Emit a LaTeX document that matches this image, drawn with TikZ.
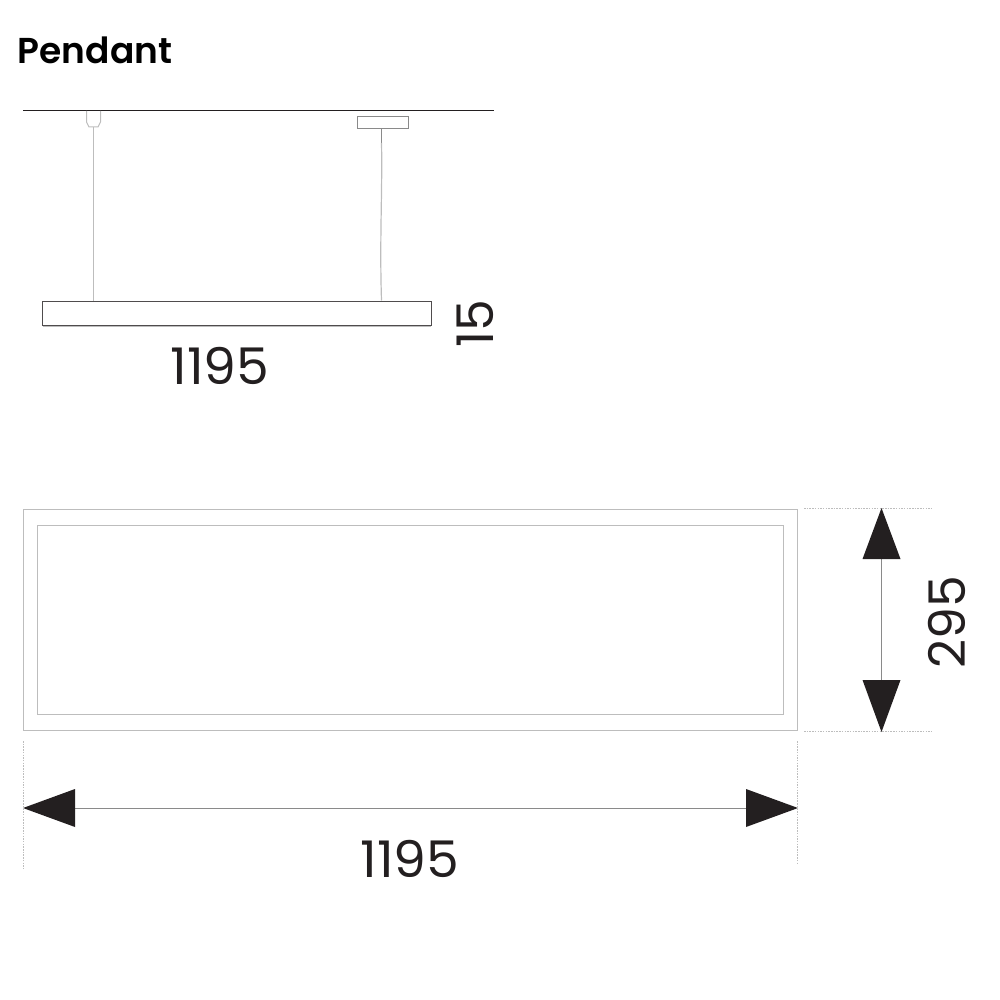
\documentclass[tikz,border=0pt]{standalone}
\usepackage{fontspec}
\setmainfont{Poppins}
\newfontfamily\titlefont{Poppins SemiBold}
\definecolor{ink}{HTML}{231F20}
\definecolor{softline}{HTML}{BDBDBD}
\definecolor{midline}{HTML}{8A8A8A}
\tikzset{
  px/.style={x=1pt,y=-1pt},
  softstroke/.style={draw=softline,line width=1pt},
  barstroke/.style={draw=ink!80,line width=1pt},
  dimline/.style={draw=midline,line width=0.9pt},
  dotline/.style={draw=softline,line width=0.8pt,dash pattern=on 1.5pt off 1.2pt},
  tip/.style={fill=ink,draw=none},
  dimtext/.style={inner sep=0pt,text=ink,font=\fontsize{50.5}{51}\selectfont},
}
\begin{document}
\begin{tikzpicture}[px]
\useasboundingbox (0,0) rectangle (1000,1000);
% title
\node[inner sep=0pt,anchor=west,text=black,font=\titlefont\fontsize{36}{36}\selectfont] (title) at (17.5,50) {Pendant};
% ceiling
\coordinate (ceilL) at (23,110.5);
\coordinate (ceilR) at (493.5,110.5);
\draw[draw=ink,line width=1.4pt] (ceilL) -- (ceilR);
% left suspension
\coordinate (capBot) at (93.5,127);
\coordinate (barA) at (93.5,301);
\draw[softstroke] (86.5,111) -- (86.5,122) -- (89,127) -- (capBot) -- (98,127) -- (100.5,122) -- (100.5,111);
\draw[softstroke] (capBot) -- (barA);
% canopy and right suspension
\node[draw=midline,line width=1pt,minimum width=51pt,minimum height=12.5pt,inner sep=0pt,outer sep=0pt] (canopy) at (383,122.4) {};
\coordinate (barB) at (381.5,300.5);
\draw[draw=midline,line width=0.9pt] (canopy.south -| barB) -- (381.5,143);
\draw[softstroke,line width=1.2pt] (381.5,143) .. controls (382.5,190) and (379.5,240) .. (barB);
% bar
\node[barstroke,minimum width=388.5pt,minimum height=24pt,inner sep=0pt,outer sep=0pt] (bar) at (236.75,313.5) {};
\draw[softstroke] (bar.south west) ++(0,0.8) -- ++(388.5,0);
% pendant dims
\node[dimtext,xscale=1.03] (w1) at (220,366) {1195};
\node[dimtext,rotate=90] (h1) at (475,324) {15};
% plan view
\node[softstroke,minimum width=773.5pt,minimum height=221.5pt,inner sep=0pt,outer sep=0pt] (outer) at (410.25,619.75) {};
\node[softstroke,minimum width=745.5pt,minimum height=188.5pt,inner sep=0pt,outer sep=0pt] (inner) at (410.25,619.75) {};
% extension lines
\draw[dotline] (804,508) -- (932,508);
\draw[dotline] (804,731) -- (932,731);
\draw[dotline] (23.5,741) -- (23.5,868);
\draw[dotline] (797.5,741) -- (797.5,865);
% vertical dimension
\coordinate (vT) at (881.5,508);
\coordinate (vB) at (881.5,732);
\coordinate (vTb) at (881.5,559);
\coordinate (vBb) at (881.5,680);
\draw[dimline] (vTb) -- (vBb);
\fill[tip] (vT) -- (900.5,559) -- (862.5,559) -- cycle;
\fill[tip] (vB) -- (900.5,680) -- (862.5,680) -- cycle;
\node[dimtext,rotate=90] (h2) at (947,622) {295};
% horizontal dimension
\coordinate (hL) at (23,808);
\coordinate (hR) at (798,808);
\coordinate (hLb) at (75,808);
\coordinate (hRb) at (746,808);
\draw[dimline] (hLb) -- (hRb);
\fill[tip] (hL) -- (75,789) -- (75,827) -- cycle;
\fill[tip] (hR) -- (746,789) -- (746,827) -- cycle;
\node[dimtext,xscale=1.03] (w2) at (410,859) {1195};
\end{tikzpicture}
\end{document}
